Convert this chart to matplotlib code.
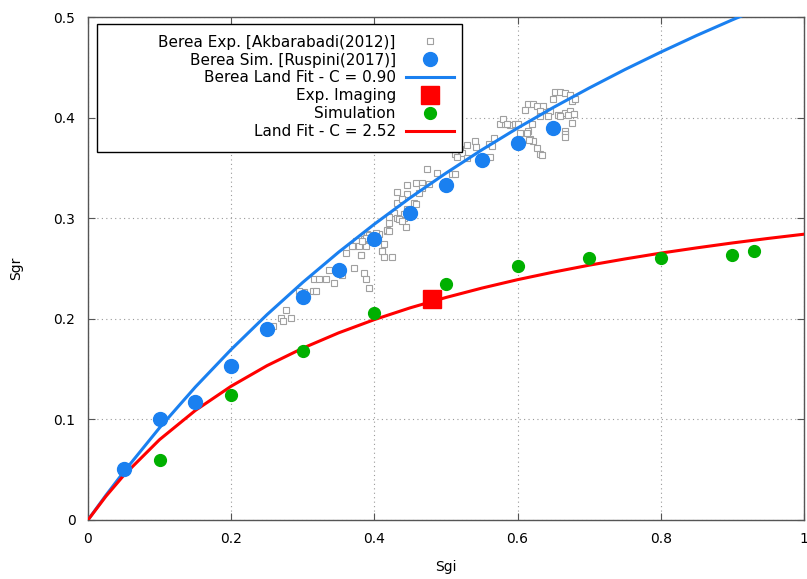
import matplotlib
matplotlib.use('Agg')
import matplotlib.pyplot as plt
from matplotlib.patches import Rectangle

plt.rcParams["font.family"] = "DejaVu Sans"
plt.rcParams["font.size"] = 10

# Berea experimental points [Akbarabadi(2012)]
exp_sgi = [0.361, 0.381, 0.371, 0.337, 0.355, 0.316, 0.322, 0.332, 0.344, 0.386,
           0.389, 0.392, 0.302, 0.314, 0.319, 0.276, 0.270, 0.272, 0.284, 0.259,
           0.431, 0.445, 0.456, 0.428, 0.420, 0.431, 0.441, 0.444, 0.418, 0.407,
           0.390, 0.385, 0.400, 0.413, 0.375, 0.371, 0.379, 0.389, 0.410, 0.414,
           0.425, 0.474, 0.488, 0.508, 0.512, 0.446, 0.458, 0.466, 0.467, 0.477,
           0.432, 0.446, 0.463, 0.439, 0.458, 0.442, 0.421, 0.435, 0.439, 0.402,
           0.393, 0.388, 0.383, 0.369, 0.411, 0.382, 0.417, 0.421, 0.295,
           0.575, 0.582, 0.589, 0.596, 0.567, 0.560, 0.565, 0.540, 0.530, 0.542,
           0.515, 0.519, 0.523, 0.512, 0.516, 0.529, 0.561, 0.614, 0.617, 0.621,
           0.627, 0.631, 0.613, 0.652, 0.659, 0.666, 0.673, 0.649, 0.676, 0.680,
           0.614, 0.621, 0.627, 0.635, 0.610, 0.631, 0.645, 0.656, 0.666, 0.673,
           0.670, 0.679, 0.642, 0.659, 0.676, 0.631, 0.579, 0.585, 0.600, 0.620,
           0.603, 0.616, 0.634, 0.666, 0.666, 0.666]
exp_sgr = [0.265, 0.263, 0.251, 0.249, 0.244, 0.240, 0.240, 0.240, 0.236, 0.246,
           0.240, 0.231, 0.227, 0.228, 0.228, 0.209, 0.201, 0.198, 0.201, 0.193,
           0.315, 0.309, 0.315, 0.305, 0.295, 0.300, 0.300, 0.291, 0.287, 0.284,
           0.284, 0.279, 0.277, 0.274, 0.277, 0.272, 0.272, 0.272, 0.267, 0.261,
           0.261, 0.349, 0.345, 0.344, 0.344, 0.333, 0.335, 0.335, 0.330, 0.334,
           0.326, 0.324, 0.325, 0.319, 0.314, 0.304, 0.301, 0.299, 0.297, 0.285,
           0.283, 0.280, 0.277, 0.272, 0.267, 0.263, 0.288, 0.287, 0.228,
           0.394, 0.394, 0.393, 0.394, 0.380, 0.374, 0.372, 0.377, 0.373, 0.371,
           0.374, 0.369, 0.365, 0.364, 0.361, 0.360, 0.361, 0.387, 0.379, 0.377,
           0.370, 0.364, 0.385, 0.425, 0.425, 0.424, 0.422, 0.419, 0.417, 0.419,
           0.414, 0.414, 0.412, 0.412, 0.408, 0.407, 0.407, 0.403, 0.405, 0.407,
           0.403, 0.404, 0.402, 0.402, 0.395, 0.402, 0.399, 0.394, 0.394, 0.394,
           0.385, 0.378, 0.363, 0.387, 0.384, 0.381]

# Berea simulation [Ruspini(2017)]
sim_b_sgi = [0.05, 0.10, 0.15, 0.20, 0.25, 0.30, 0.35, 0.40, 0.45, 0.50, 0.55, 0.60, 0.65]
sim_b_sgr = [0.051, 0.100, 0.117, 0.153, 0.190, 0.222, 0.249, 0.279, 0.305, 0.333, 0.358, 0.375, 0.390]

# Land fit curves
fit_sgi = [0.0, 0.025, 0.05, 0.1, 0.15, 0.2, 0.25, 0.3, 0.35, 0.4, 0.45, 0.5,
           0.55, 0.6, 0.65, 0.7, 0.75, 0.8, 0.85, 0.9, 0.95, 1.0]
fit_berea = [0.0, 0.0245, 0.0478, 0.0917, 0.1322, 0.1695, 0.2041, 0.2362, 0.2662,
             0.2941, 0.3203, 0.3448, 0.3679, 0.3896, 0.4101, 0.4294, 0.4478,
             0.4651, 0.4816, 0.4972, 0.5121, 0.5263]
fit_land = [0.0, 0.0235, 0.0444, 0.0799, 0.1089, 0.1330, 0.1534, 0.1708, 0.1860,
            0.1992, 0.2109, 0.2212, 0.2305, 0.2389, 0.2464, 0.2533, 0.2595,
            0.2653, 0.2705, 0.2754, 0.2799, 0.2841]

# Experimental imaging
img_sgi = [0.48]
img_sgr = [0.22]

# Simulation
sim_sgi = [0.1, 0.2, 0.3, 0.4, 0.5, 0.6, 0.7, 0.8, 0.9, 0.93]
sim_sgr = [0.060, 0.124, 0.168, 0.206, 0.235, 0.252, 0.260, 0.260, 0.263, 0.267]

blue = '#1a80f0'
green = '#00b000'
red = '#ff0000'
frame_col = '#555555'

fig = plt.figure(figsize=(8.07, 5.79), dpi=100)
ax = fig.add_axes([0.1090, 0.1019, 0.8872, 0.8687])

ax.plot(exp_sgi, exp_sgr, ls='none', marker='s', ms=4.8, mfc='white',
        mec='#a0a0a0', mew=0.8, label='Berea Exp. [Akbarabadi(2012)]', zorder=2)
ax.plot(fit_sgi, fit_berea, color=blue, lw=2.2, label='Berea Land Fit - C = 0.90', zorder=3)
ax.plot(sim_b_sgi, sim_b_sgr, ls='none', marker='o', ms=10, color=blue,
        label='Berea Sim. [Ruspini(2017)]', zorder=4)
ax.plot(fit_sgi, fit_land, color=red, lw=2.2, label='Land Fit - C = 2.52', zorder=3)
ax.plot(img_sgi, img_sgr, ls='none', marker='s', ms=13, color=red,
        label='Exp. Imaging', zorder=5)
ax.plot(sim_sgi, sim_sgr, ls='none', marker='o', ms=8.5, color=green,
        label='Simulation', zorder=4)

ax.set_xlim(0, 1)
ax.set_ylim(0, 0.5)
ax.set_xticks([0, 0.2, 0.4, 0.6, 0.8, 1])
ax.set_xticklabels(['0', '0.2', '0.4', '0.6', '0.8', '1'])
ax.set_yticks([0, 0.1, 0.2, 0.3, 0.4, 0.5])
ax.set_yticklabels(['0', '0.1', '0.2', '0.3', '0.4', '0.5'])
ax.tick_params(direction='in', top=True, right=True, length=5, pad=9, color=frame_col)
for s in ax.spines.values():
    s.set_color(frame_col)
    s.set_linewidth(1.0)
ax.grid(True, ls=(0, (1, 3)), color='#999999', lw=0.8)
ax.set_xlabel('Sgi')
ax.set_ylabel('Sgr')
ax.xaxis.set_label_coords(0.5, -0.079)
ax.yaxis.set_label_coords(-0.091, 0.5)

# gnuplot-like key: plain box, labels right-aligned against the samples
ax.add_patch(Rectangle((0.0126, 0.7316), 0.5097, 0.2544, transform=ax.transAxes,
                       facecolor='white', edgecolor='black', lw=1.0, zorder=6))
handles, labels = ax.get_legend_handles_labels()
order = ['Berea Exp. [Akbarabadi(2012)]', 'Berea Sim. [Ruspini(2017)]',
         'Berea Land Fit - C = 0.90', 'Exp. Imaging', 'Simulation', 'Land Fit - C = 2.52']
hmap = dict(zip(labels, handles))
leg = ax.legend([hmap[l] for l in order], order, loc='upper right',
                bbox_to_anchor=(0.511, 0.965), borderaxespad=0, borderpad=0,
                markerfirst=False, frameon=False, handlelength=3.15,
                handletextpad=0.65, labelspacing=0.19, fontsize=11)
leg.set_zorder(7)

fig.savefig('out.png', dpi=100)
